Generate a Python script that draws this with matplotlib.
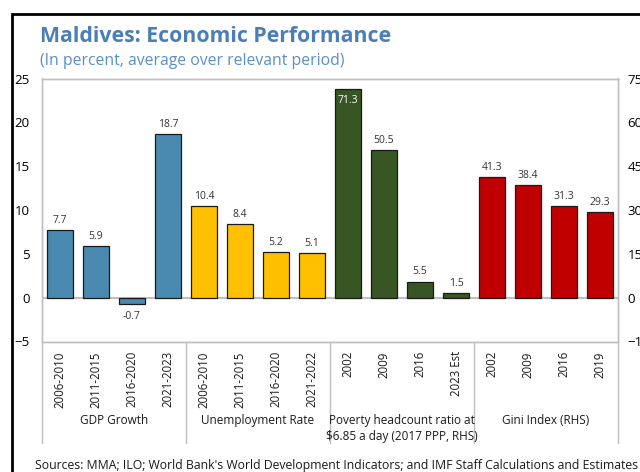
import matplotlib.pyplot as plt
from matplotlib.patches import Rectangle
from matplotlib.lines import Line2D

plt.rcParams['font.family'] = ['Open Sans', 'DejaVu Sans']

# Данные
groups = ['GDP Growth', 'Unemployment Rate',
          'Poverty headcount ratio at\n\\$6.85 a day (2017 PPP, RHS)', 'Gini Index (RHS)']
gdp_labels = ['2006-2010', '2011-2015', '2016-2020', '2021-2023']
gdp_values = [7.7, 5.9, -0.7, 18.7]
unemp_labels = ['2006-2010', '2011-2015', '2016-2020', '2021-2022']
unemp_values = [10.4, 8.4, 5.2, 5.1]
poverty_labels = ['2002', '2009', '2016', '2023 Est']
poverty_values = [71.3, 50.5, 5.5, 1.5]
gini_labels = ['2002', '2009', '2016', '2019']
gini_values = [41.3, 38.4, 31.3, 29.3]

colors = ['#4A89B0', '#FFC000', '#375623', '#C00000']

W, H = 640, 472
fig = plt.figure(figsize=(6.4, 4.72), dpi=100)
ax = fig.add_axes([42 / W, 1 - 341.5 / H, 576 / W, 263 / H])
ax2 = ax.twinx()

series = [(gdp_labels, gdp_values, ax), (unemp_labels, unemp_values, ax),
          (poverty_labels, poverty_values, ax2), (gini_labels, gini_values, ax2)]

ticks, tick_labels = [], []
pos = 0
for gi, (labs, vals, a) in enumerate(series):
    xs = list(range(pos, pos + len(vals)))
    a.bar(xs, vals, width=0.72, color=colors[gi], edgecolor='#1a1a1a',
          linewidth=0.9, zorder=3)
    for x, v in zip(xs, vals):
        if v > 60:
            a.annotate(f'{v:.1f}', (x, v), xytext=(0, -4), textcoords='offset points',
                       ha='center', va='top', fontsize=7.5, color='white', zorder=4)
        elif v < 0:
            a.annotate(f'{v:.1f}', (x, v), xytext=(0, -5), textcoords='offset points',
                       ha='center', va='top', fontsize=7.5, color='#333333', zorder=4)
        else:
            a.annotate(f'{v:.1f}', (x, v), xytext=(0, 3), textcoords='offset points',
                       ha='center', va='bottom', fontsize=7.5, color='#333333', zorder=4)
    ticks += xs
    tick_labels += labs
    pos += len(vals)

ax.set_xlim(-0.5, pos - 0.5)
ax.set_ylim(-5, 25)
ax.set_yticks(range(-5, 26, 5))
ax2.set_ylim(-15, 75)
ax2.set_yticks(range(-15, 76, 15))
ax.set_xticks(ticks)
ax.set_xticklabels(tick_labels, rotation=90, fontsize=8.3, color='#1a1a1a')
ax.tick_params(axis='x', length=0, pad=7)
ax.tick_params(axis='y', length=0, pad=9, labelsize=9.5)
ax2.tick_params(axis='y', length=0, pad=7, labelsize=9.5)

for a in (ax, ax2):
    for s in a.spines.values():
        s.set_color('#BFBFBF')
        s.set_linewidth(1.0)
ax.axhline(0, color='#BFBFBF', lw=1.5, zorder=2)

# Разделители групп под осью
for b in [0, 4, 8, 12, 16]:
    ax.add_line(Line2D([b - 0.5, b - 0.5], [-5, -16.6], color='#BFBFBF', lw=1.0,
                       clip_on=False, transform=ax.transData))
for gi, g in enumerate(groups):
    ax.text(gi * 4 + 1.5, -13.3, g, ha='center', va='top', fontsize=8.5,
            color='#1a1a1a', linespacing=1.25)

# Заголовки
fig.text(40 / W, 1 - 36 / H, 'Maldives: Economic Performance', fontsize=15.3,
         fontweight='bold', color='#4A7EB5', va='center')
fig.text(40 / W, 1 - 61 / H, '(In percent, average over relevant period)', fontsize=11.3,
         color='#5B8FC8', va='center')
fig.text(35 / W, 1 - 465 / H,
         "Sources: MMA; ILO; World Bank's World Development Indicators; and IMF Staff Calculations and Estimates",
         fontsize=8.85, color='#1a1a1a', va='center')

# Рамка
fig.patches.append(Rectangle((12 / W, -0.1), 1.2, 1 - 14 / H + 0.1, transform=fig.transFigure,
                             fill=False, edgecolor='black', linewidth=2))

fig.savefig('out.png', dpi=100)
